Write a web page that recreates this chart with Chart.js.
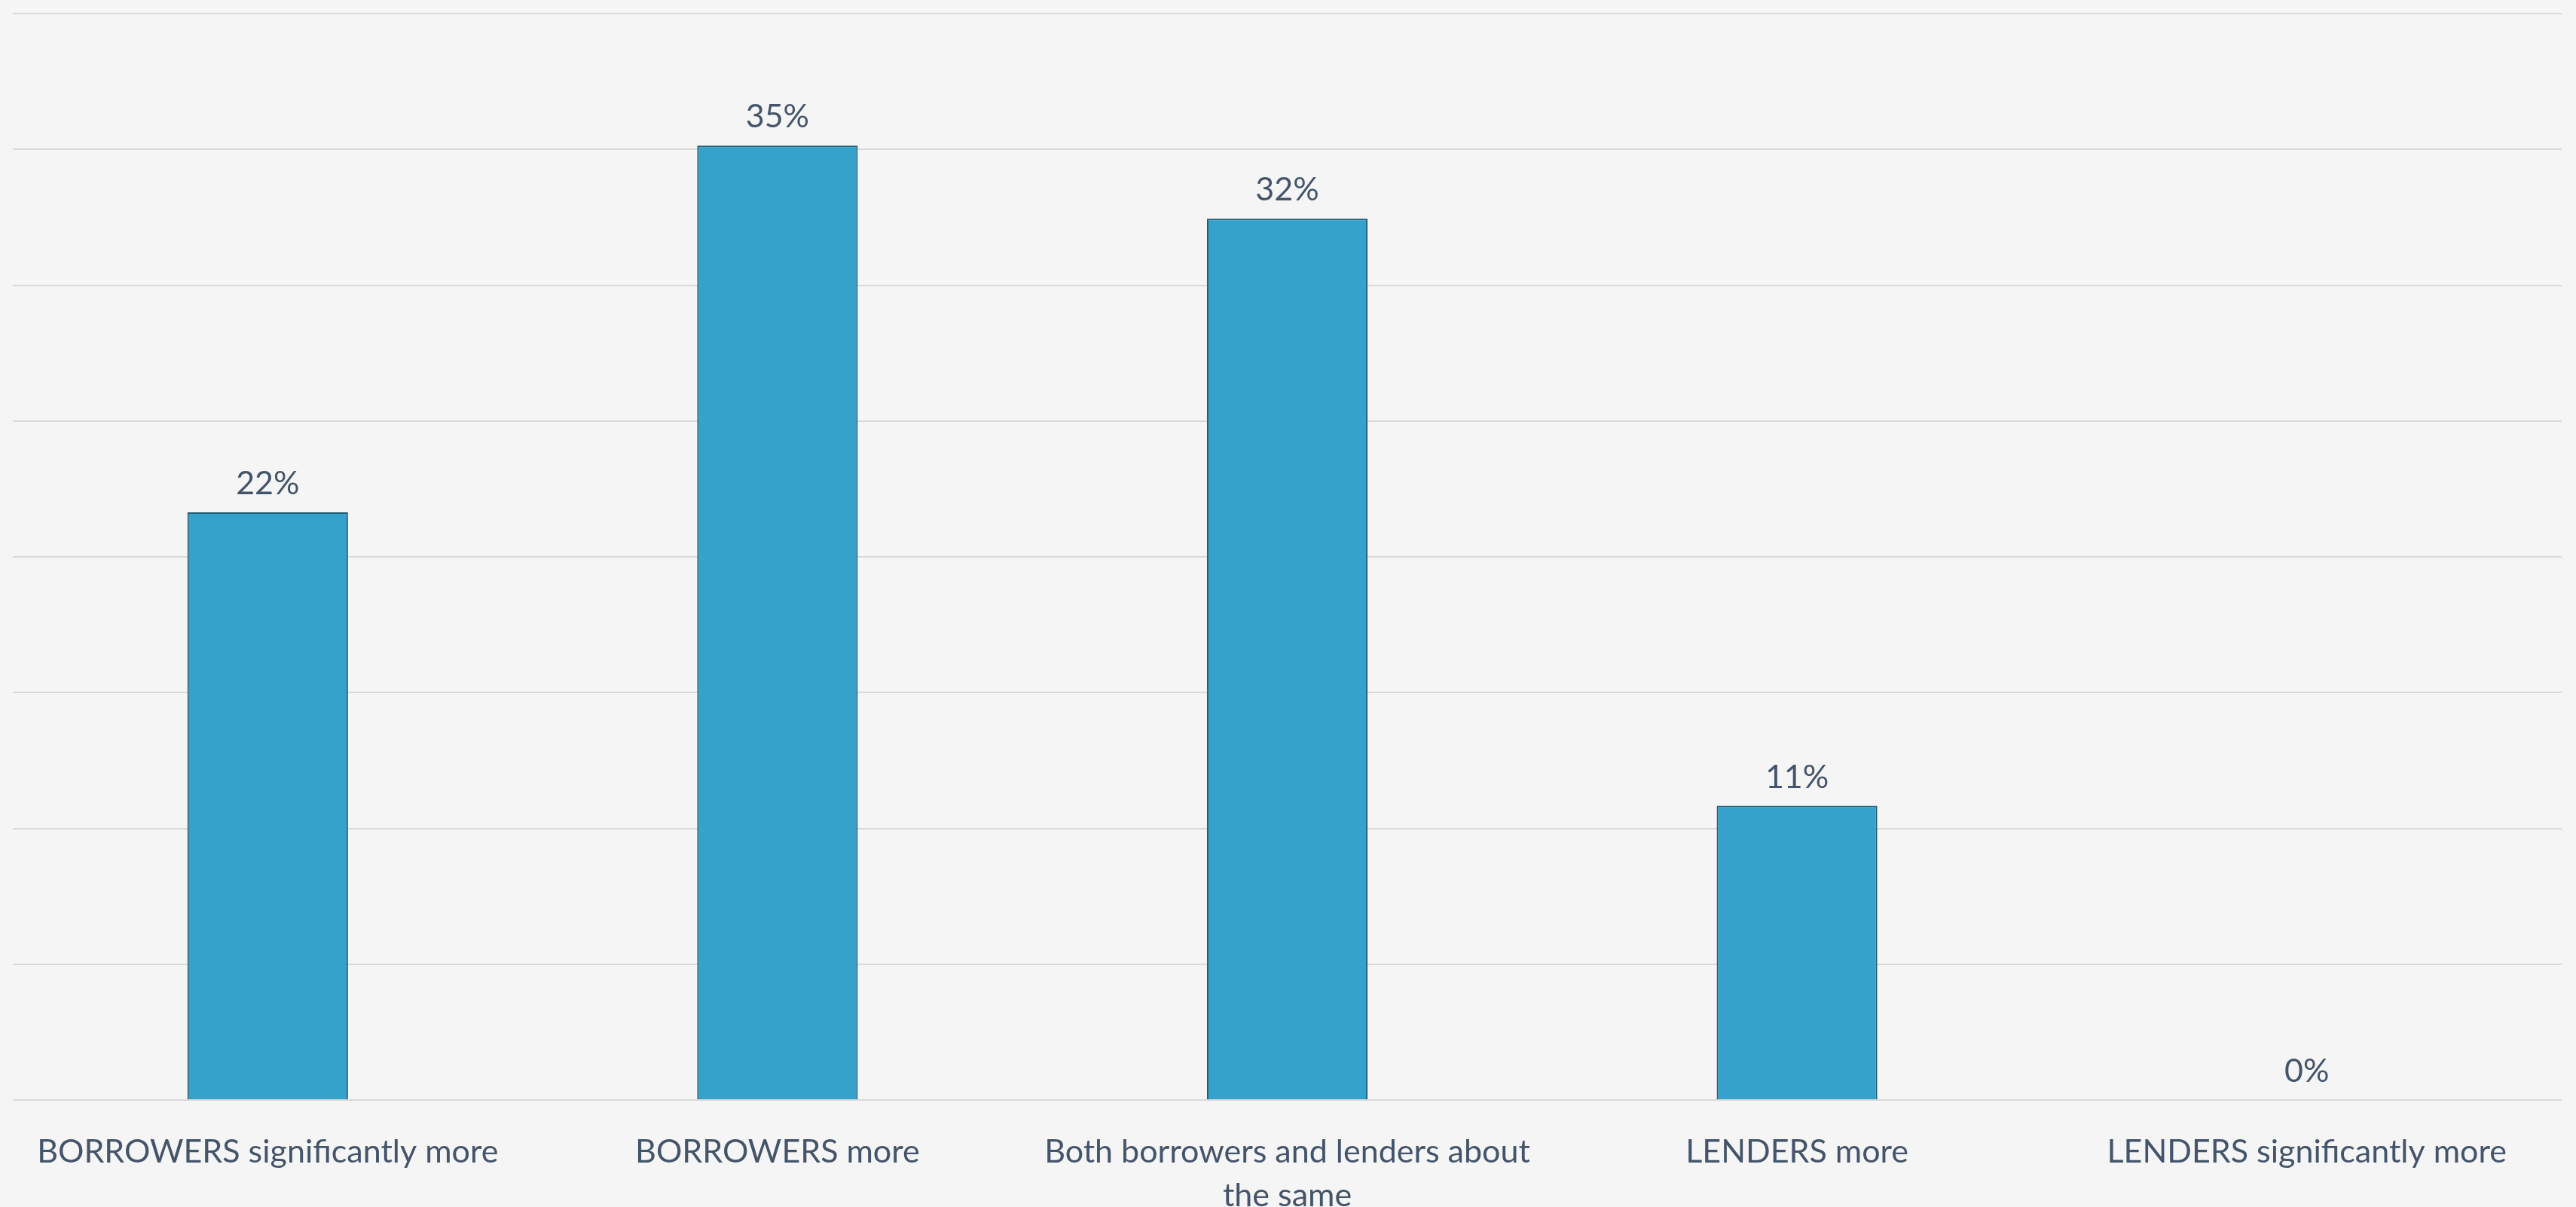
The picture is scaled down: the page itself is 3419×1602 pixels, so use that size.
<!DOCTYPE html>
<html>
<head>
<meta charset="utf-8">
<script src="https://cdn.jsdelivr.net/npm/chart.js@4.4.1/dist/chart.umd.min.js"></script>
<style>
  html, body { margin: 0; padding: 0; background: #f5f5f5; }
  #wrap { width: 3419px; height: 1602px; }
</style>
</head>
<body>
<div id="wrap"><canvas id="chart"></canvas></div>
<script>
// --- data ---
const categories = [
    'BORROWERS significantly more',
    'BORROWERS more',
    ['Both borrowers and lenders about', 'the same'],
    'LENDERS more',
    'LENDERS significantly more'
];
const shares = [0.2164, 0.3514, 0.3245, 0.1083, 0];

const axisMax = 0.40;
const axisStep = 0.05;

const textColor = '#44546a';
const labelFont = { family: 'Lato, "Open Sans", sans-serif', size: 43 };

// draws the percentage above each bar
const barValueLabels = {
    id: 'barValueLabels',
    afterDatasetsDraw(chart) {
        const ctx = chart.ctx;
        const meta = chart.getDatasetMeta(0);
        ctx.save();
        ctx.fillStyle = textColor;
        ctx.font = labelFont.size + 'px ' + labelFont.family;
        ctx.textAlign = 'center';
        ctx.textBaseline = 'alphabetic';
        meta.data.forEach((bar, i) => {
            const txt = Math.round(shares[i] * 100) + '%';
            ctx.fillText(txt, bar.x, bar.y - 24);
        });
        ctx.restore();
    }
};

new Chart(document.getElementById('chart').getContext('2d'), {
    type: 'bar',
    data: {
        labels: categories,
        datasets: [{
            data: shares,
            backgroundColor: '#35a2cb',
            borderColor: '#1f5c76',
            borderWidth: 2,
            barPercentage: 1,
            categoryPercentage: 0.315
        }]
    },
    options: {
        responsive: true,
        maintainAspectRatio: false,
        animation: false,
        layout: { padding: { left: 17, right: 19, top: 18, bottom: 0 } },
        plugins: {
            legend: { display: false },
            tooltip: { enabled: false }
        },
        scales: {
            x: {
                grid: { display: false },
                border: { display: false },
                afterFit(scale) { scale.height = 142; },
                ticks: {
                    color: textColor,
                    font: { ...labelFont, lineHeight: 1.35 },
                    padding: 32,
                    maxRotation: 0,
                    autoSkip: false
                }
            },
            y: {
                min: 0,
                max: axisMax,
                grid: { color: '#d9d9d9', lineWidth: 2, drawTicks: false },
                border: { display: false },
                ticks: { display: false, stepSize: axisStep }
            }
        }
    },
    plugins: [barValueLabels]
});
</script>
</body>
</html>
